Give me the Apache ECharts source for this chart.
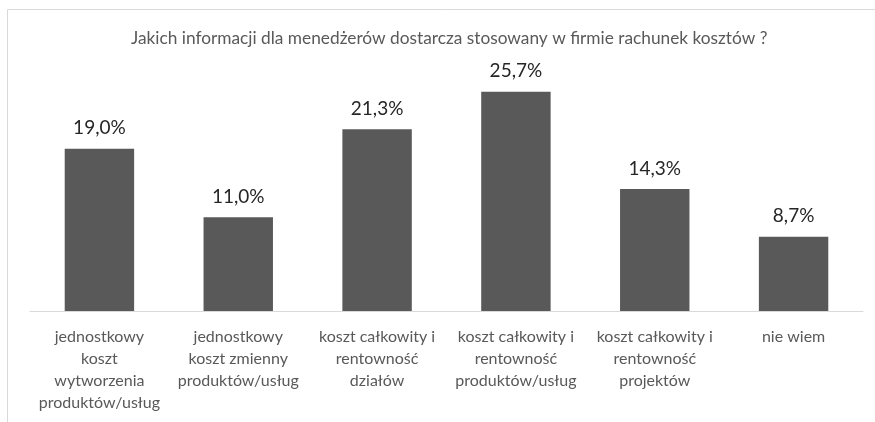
<!DOCTYPE html>
<html>
<head>
<meta charset="utf-8">
<script src="https://cdn.jsdelivr.net/npm/echarts@6/dist/echarts.min.js"></script>
<style>
  html, body { margin: 0; padding: 0; background: #ffffff; }
  #chart { width: 875px; height: 422px; }
</style>
</head>
<body>
<div id="chart"></div>
<script>
// Survey question and answer categories
const title = 'Jakich informacji dla menedżerów dostarcza stosowany w firmie rachunek kosztów ?';
const categories = [
  'jednostkowy\nkoszt\nwytworzenia\nproduktów/usług',
  'jednostkowy\nkoszt zmienny\nproduktów/usług',
  'koszt całkowity i\nrentowność\ndziałów',
  'koszt całkowity i\nrentowność\nproduktów/usług',
  'koszt całkowity i\nrentowność\nprojektów',
  'nie wiem'
];
// Share of responses, in percent
const shares = [19.0, 11.0, 21.3, 25.7, 14.3, 8.7];

const fontFamily = 'Lato, "Open Sans", sans-serif';
const chart = echarts.init(document.getElementById('chart'));
chart.setOption({
  animation: false,
  backgroundColor: '#ffffff',
  textStyle: { fontFamily: fontFamily },
  title: {
    text: title,
    left: 126,
    top: 25,
    textStyle: { fontFamily: fontFamily, fontSize: 17.3, fontWeight: 'normal', color: '#595959' }
  },
  graphic: [{
    type: 'rect',
    shape: { x: 7.5, y: 9.5, width: 900, height: 500 },
    style: { fill: 'none', stroke: '#d9d9d9', lineWidth: 1 },
    silent: true
  }],
  grid: { left: 30, right: 12, top: 55, bottom: 111 },
  xAxis: {
    type: 'category',
    data: categories,
    axisLine: { lineStyle: { color: '#d9d9d9', width: 1 } },
    axisTick: { show: false },
    axisLabel: {
      interval: 0,
      margin: 15,
      fontSize: 16,
      lineHeight: 22,
      color: '#595959',
      fontFamily: fontFamily
    }
  },
  yAxis: {
    type: 'value',
    min: 0,
    max: 30,
    show: false,
    splitLine: { show: false }
  },
  series: [{
    type: 'bar',
    data: shares,
    barWidth: '50%',
    itemStyle: { color: '#595959' },
    label: {
      show: true,
      position: 'top',
      distance: 11,
      fontSize: 19,
      color: '#262626',
      fontFamily: fontFamily,
      formatter: p => p.value.toFixed(1).replace('.', ',') + '%'
    }
  }]
});
</script>
</body>
</html>
